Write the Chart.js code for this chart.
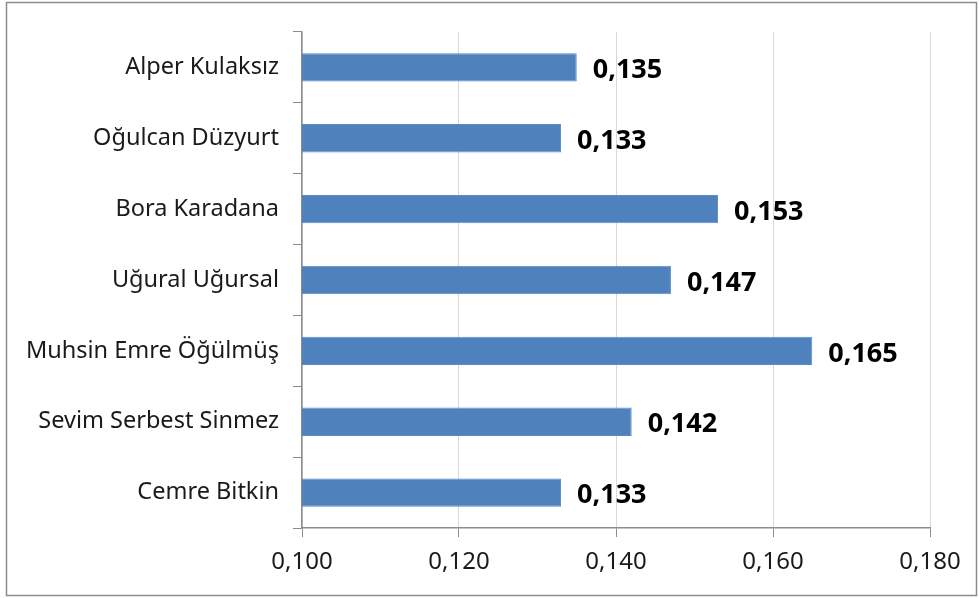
<!DOCTYPE html>
<html>
<head>
<meta charset="utf-8">
<script src="https://cdn.jsdelivr.net/npm/chart.js@4"></script>
<style>
  html, body { margin: 0; padding: 0; background: #fff; }
  #wrap { position: relative; width: 979px; height: 598px; }
</style>
</head>
<body>
<div id="wrap"><canvas id="myChart"></canvas></div>
<script>
const names = [
  "Alper Kulaksız",
  "Oğulcan Düzyurt",
  "Bora Karadana",
  "Uğural Uğursal",
  "Muhsin Emre Öğülmüş",
  "Sevim Serbest Sinmez",
  "Cemre Bitkin",
];
const scores = [0.135, 0.133, 0.153, 0.147, 0.165, 0.142, 0.133];
const xMin = 0.1;
const xMax = 0.18;
const xStep = 0.02;

function fmt(v) {
  return v.toFixed(3).replace(".", ",");
}

// gray frame round the whole chart
const framePlugin = {
  id: "frame",
  beforeDraw(chart) {
    const c = chart.ctx;
    c.save();
    c.strokeStyle = "#8c8c8c";
    c.lineWidth = 1.5;
    c.strokeRect(6.5, 2.5, 970, 593);
    c.restore();
  },
};

// bold value next to each bar
const valueLabels = {
  id: "valueLabels",
  afterDatasetsDraw(chart) {
    const c = chart.ctx;
    const meta = chart.getDatasetMeta(0);
    c.save();
    c.font = "bold 27px 'Noto Sans'";
    c.fillStyle = "#000";
    c.textBaseline = "middle";
    c.textAlign = "left";
    meta.data.forEach((bar, i) => {
      c.fillText(fmt(scores[i]), bar.x + 16, bar.y + 3);
    });
    c.restore();
  },
};

const ctx = document.getElementById("myChart");

new Chart(ctx, {
  type: "bar",
  data: {
    labels: names,
    datasets: [
      {
        data: scores,
        backgroundColor: "#4F81BD",
        borderColor: "#5b8cc6",
        borderWidth: 1,
        categoryPercentage: 1,
        barPercentage: 0.4,
      },
    ],
  },
  options: {
    indexAxis: "y",
    responsive: true,
    maintainAspectRatio: false,
    animation: false,
    layout: {
      padding: { left: 0, top: 32, right: 49, bottom: 0 },
    },
    plugins: {
      legend: { display: false },
      tooltip: { enabled: false },
    },
    scales: {
      x: {
        min: xMin,
        max: xMax,
        afterFit(s) {
          s.height = 70;
        },
        ticks: {
          stepSize: xStep,
          color: "#1a1a1a",
          font: { family: "'Noto Sans'", size: 24 },
          padding: 11,
          callback: (v) => fmt(v),
        },
        grid: {
          color: "#d9d9d9",
          tickColor: "#8c8c8c",
          tickLength: 9,
        },
        border: { color: "#8c8c8c", width: 1.5 },
      },
      y: {
        afterFit(s) {
          s.width = 302;
        },
        ticks: {
          color: "#1a1a1a",
          font: { family: "'Noto Sans'", size: 23.5 },
          padding: 14,
        },
        grid: {
          offset: true,
          drawOnChartArea: false,
          tickColor: "#8c8c8c",
          tickLength: 9,
        },
        border: { color: "#8c8c8c", width: 1.5 },
      },
    },
  },
  plugins: [framePlugin, valueLabels],
});
</script>
</body>
</html>
